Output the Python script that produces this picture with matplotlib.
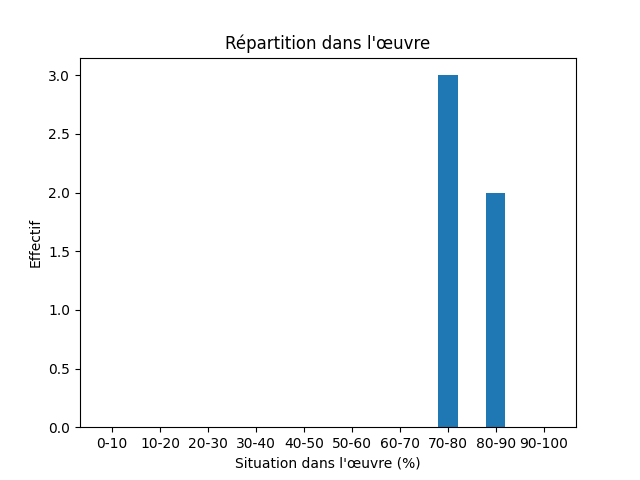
import matplotlib
matplotlib.use("Agg")
import matplotlib.pyplot as plt

tranches = ["0-10", "10-20", "20-30", "30-40", "40-50",
            "50-60", "60-70", "70-80", "80-90", "90-100"]
effectifs = [0, 0, 0, 0, 0, 0, 0, 3, 2, 0]

fig, ax = plt.subplots(figsize=(6.4, 4.8), dpi=100)
ax.bar(tranches, effectifs, width=0.4)
ax.set_title("Répartition dans l'œuvre")
ax.set_xlabel("Situation dans l'œuvre (%)")
ax.set_ylabel("Effectif")
fig.savefig("out.png")
